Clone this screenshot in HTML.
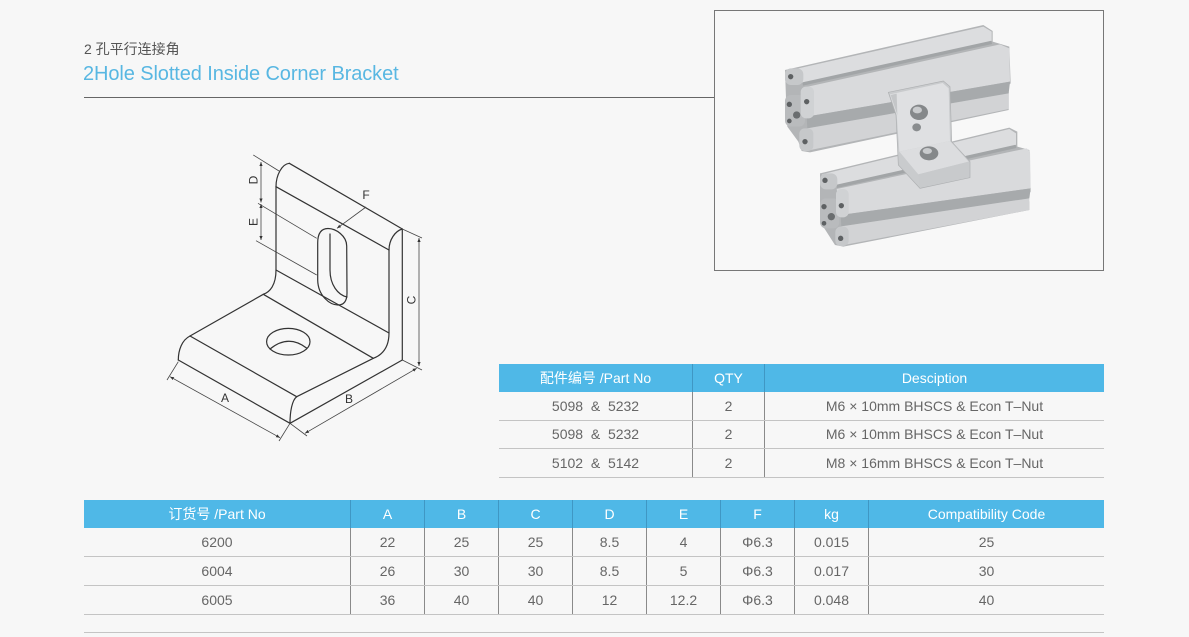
<!DOCTYPE html>
<html>
<head>
<meta charset="utf-8">
<style>
  html,body{margin:0;padding:0;}
  body{width:1189px;height:637px;background:#f7f7f7;position:relative;overflow:hidden;
       font-family:"Liberation Sans","Noto Sans CJK SC",sans-serif;}
  .t1{position:absolute;left:84px;top:39px;font-size:14px;color:#555;white-space:nowrap;}
  .t2{position:absolute;left:83px;top:63px;font-size:20px;color:#58b7e2;white-space:nowrap;letter-spacing:-0.1px;}
  .row{position:absolute;display:flex;box-sizing:border-box;}
  .row div{box-sizing:border-box;text-align:center;white-space:nowrap;}
  .hd{background:#4fb8e7;color:#fff;font-size:14px;}
  .hd div{border-left:1px solid #3f97c4;}
  .hd div:first-child{border-left:none;}
  .bd{color:#666;font-size:14px;border-bottom:1px solid #c4c4c4;}
  .bd div{border-left:1px solid #8a8a8a;}
  .bd div:first-child{border-left:none;}
  svg{position:absolute;left:0;top:0;}
</style>
</head>
<body>

<div class="t1">2 孔平行连接角</div>
<div class="t2">2Hole Slotted Inside Corner Bracket</div>

<svg width="1189" height="637" viewBox="0 0 1189 637">
  <defs>
    <marker id="ar" viewBox="0 0 10 10" refX="10" refY="5" markerWidth="5" markerHeight="5" orient="auto-start-reverse">
      <path d="M0,1 L10,5 L0,9 Z" fill="#333"/>
    </marker>
  </defs>

  <!-- title rule -->
  <line x1="84" y1="97.5" x2="714" y2="97.5" stroke="#666" stroke-width="1"/>
  <!-- photo box -->
  <rect x="714.5" y="10.5" width="389" height="260" fill="#f8f8f8" stroke="#777" stroke-width="1"/>

  <!-- photo -->
  <g transform="translate(770,15) scale(0.33333)">
    <!-- upper profile -->
    <polygon points="45,165 640,30 668,48 668,80 718,95 722,205 708,218 716,232 716,285 120,412 95,408 85,380 52,335 48,250" fill="#b3b5b7"/>
    <polygon points="50,168 640,35 665,50 665,78 98,205" fill="#dcdddf"/>
    <line x1="98" y1="207" x2="665" y2="82" stroke="#a2a5a7" stroke-width="10"/>
    <polygon points="100,218 690,88 718,100 720,200 110,305" fill="#d9dadc"/>
    <polygon points="110,305 720,200 716,235 112,340" fill="#a7aaac"/>
    <polygon points="112,340 716,235 716,282 122,405" fill="#d2d3d5"/>
    <!-- upper end face -->
    <rect x="45" y="160" width="55" height="50" rx="18" fill="#c6c8ca"/>
    <rect x="45" y="240" width="60" height="95" rx="18" fill="#b9bbbd"/>
    <rect x="92" y="215" width="40" height="95" rx="16" fill="#d0d2d4"/>
    <rect x="88" y="340" width="42" height="68" rx="16" fill="#c6c8ca"/>
    <circle cx="62" cy="185" r="8" fill="#5e6163"/>
    <circle cx="58" cy="268" r="8" fill="#5e6163"/>
    <circle cx="80" cy="300" r="11" fill="#6a6d6f"/>
    <circle cx="58" cy="318" r="7" fill="#5e6163"/>
    <circle cx="110" cy="260" r="8" fill="#5e6163"/>
    <circle cx="105" cy="380" r="8" fill="#5e6163"/>
    <!-- lower profile -->
    <polygon points="150,475 718,338 742,350 742,395 778,405 782,530 770,545 778,560 778,585 220,695 195,690 150,620" fill="#b3b5b7"/>
    <polygon points="155,478 718,342 738,355 738,390 200,510" fill="#dcdddf"/>
    <line x1="200" y1="514" x2="738" y2="394" stroke="#a2a5a7" stroke-width="10"/>
    <polygon points="200,522 770,400 780,410 782,520 212,600" fill="#d9dadc"/>
    <polygon points="212,600 782,520 778,550 214,634" fill="#a7aaac"/>
    <polygon points="214,634 778,550 778,585 222,690" fill="#d2d3d5"/>
    <!-- lower end face -->
    <rect x="150" y="475" width="52" height="48" rx="18" fill="#c6c8ca"/>
    <rect x="150" y="550" width="58" height="90" rx="18" fill="#b9bbbd"/>
    <rect x="198" y="522" width="38" height="85" rx="16" fill="#d0d2d4"/>
    <rect x="196" y="635" width="40" height="58" rx="16" fill="#c6c8ca"/>
    <circle cx="165" cy="496" r="8" fill="#5e6163"/>
    <circle cx="162" cy="575" r="8" fill="#5e6163"/>
    <circle cx="184" cy="605" r="11" fill="#6a6d6f"/>
    <circle cx="162" cy="625" r="7" fill="#5e6163"/>
    <circle cx="214" cy="572" r="8" fill="#5e6163"/>
    <circle cx="212" cy="670" r="8" fill="#5e6163"/>
    <!-- bracket -->
    <polygon points="355,232 520,198 540,215 545,380 600,440 600,488 450,520 385,450 378,300" fill="#c9cbcd" stroke="#aeb0b2" stroke-width="2"/>
    <polygon points="360,238 518,204 536,220 540,378 388,410 380,300" fill="#dfe0e2"/>
    <polygon points="362,240 380,236 386,420 382,300" fill="#c4c6c8"/>
    <polygon points="388,410 540,378 596,440 445,478" fill="#dcdddf"/>
    <polygon points="445,478 596,440 598,486 450,516" fill="#c8cacc"/>
    <ellipse cx="447" cy="292" rx="27" ry="23" fill="#85888a"/>
    <ellipse cx="442" cy="285" rx="14" ry="10" fill="#c9cbcd"/>
    <ellipse cx="440" cy="337" rx="13" ry="12" fill="#8a8d8f"/>
    <ellipse cx="477" cy="415" rx="28" ry="21" fill="#85888a"/>
    <ellipse cx="472" cy="408" rx="14" ry="9" fill="#c9cbcd"/>
  </g>

  <!-- line drawing -->
  <g fill="none" stroke="#333" stroke-width="1.2" stroke-linecap="round" stroke-linejoin="round">
    <path d="M289.3,163.3 L402.3,229"/>
    <path d="M289.3,163.3 C282,164 276,175 276,186.7"/>
    <path d="M276,186.7 L389,250"/>
    <path d="M402.3,229 C395,231 389,240 389,250"/>
    <path d="M276,186.7 L276,270 C276,285 270,292 263.3,294.3"/>
    <path d="M276,270 L389,333"/>
    <path d="M389,250 L389,333 C389,348 382,355 373.3,358.3"/>
    <path d="M402.3,229 L402.3,360"/>
    <path d="M263.3,294.3 L373.3,358.3"/>
    <path d="M263.3,294.3 L190,336"/>
    <path d="M190,336 C182,340 178.3,350 178.3,360"/>
    <path d="M190,336 L296.7,396.7"/>
    <path d="M178.3,360 L290,423.3"/>
    <path d="M296.7,396.7 C292,400 290,412 290,423.3"/>
    <path d="M296.7,396.7 L373.3,358.3"/>
    <path d="M290,423.3 L402.3,360"/>
    <!-- hole -->
    <ellipse cx="288.3" cy="341.7" rx="21.7" ry="13.3"/>
    <path d="M270,349 Q288.3,334 306.5,348"/>
    <!-- slot -->
    <path d="M317.7,277 L317.7,243 C317.7,232 322,228.5 328,228.5 C336,228.5 346.7,236 346.7,246 L347,293 C347,302 343,305 338,305 C330,305 318,296 317.7,280 Z"/>
    <path d="M330,234 L330,270 C330,285 338,295 347,297"/>
  </g>

  <!-- dimension lines -->
  <g fill="none" stroke="#444" stroke-width="0.8">
    <line x1="253.3" y1="155" x2="279" y2="171"/>
    <line x1="258" y1="203.3" x2="316.7" y2="238.3"/>
    <line x1="256" y1="240.7" x2="316.7" y2="275"/>
    <line x1="261" y1="162" x2="261" y2="202.5" marker-start="url(#ar)" marker-end="url(#ar)"/>
    <line x1="261" y1="204" x2="261" y2="240" marker-start="url(#ar)" marker-end="url(#ar)"/>
    <line x1="366" y1="207" x2="337" y2="228.3" marker-end="url(#ar)"/>
    <line x1="402.3" y1="229" x2="422" y2="238"/>
    <line x1="402.3" y1="360" x2="422" y2="370"/>
    <line x1="419" y1="238" x2="419" y2="366" marker-start="url(#ar)" marker-end="url(#ar)"/>
    <line x1="178.3" y1="361.7" x2="167" y2="380"/>
    <line x1="290" y1="423.3" x2="279" y2="441"/>
    <line x1="170" y1="376.7" x2="280" y2="437.7" marker-start="url(#ar)" marker-end="url(#ar)"/>
    <line x1="290" y1="423.3" x2="307" y2="436"/>
    <line x1="305" y1="433.3" x2="416.7" y2="368.3" marker-start="url(#ar)" marker-end="url(#ar)"/>
  </g>
  <g font-family="Liberation Sans, sans-serif" font-size="12" fill="#333" text-anchor="middle">
    <text x="225" y="402">A</text>
    <text x="349" y="403">B</text>
    <text x="366" y="199">F</text>
    <text transform="translate(415.5,300) rotate(-90)">C</text>
    <text transform="translate(257.5,180) rotate(-90)">D</text>
    <text transform="translate(257.5,222) rotate(-90)">E</text>
  </g>

  <!-- table bottom extra line -->
  <line x1="84" y1="632.5" x2="1104" y2="632.5" stroke="#c4c4c4" stroke-width="1"/>
</svg>

<!-- accessories table -->
<div class="row hd" style="left:499px;top:364px;width:605px;height:28px;line-height:28px;">
  <div style="width:193px">配件编号 /Part No</div><div style="width:72px">QTY</div><div style="width:340px">Desciption</div>
</div>
<div class="row bd" style="left:499px;top:392px;width:605px;height:29px;line-height:28px;">
  <div style="width:193px">5098 &nbsp;&amp;&nbsp; 5232</div><div style="width:72px">2</div><div style="width:340px">M6 × 10mm BHSCS &amp; Econ T–Nut</div>
</div>
<div class="row bd" style="left:499px;top:421px;width:605px;height:28px;line-height:27px;">
  <div style="width:193px">5098 &nbsp;&amp;&nbsp; 5232</div><div style="width:72px">2</div><div style="width:340px">M6 × 10mm BHSCS &amp; Econ T–Nut</div>
</div>
<div class="row bd" style="left:499px;top:449px;width:605px;height:29px;line-height:28px;">
  <div style="width:193px">5102 &nbsp;&amp;&nbsp; 5142</div><div style="width:72px">2</div><div style="width:340px">M8 × 16mm BHSCS &amp; Econ T–Nut</div>
</div>

<!-- spec table -->
<div class="row hd" style="left:84px;top:500px;width:1020px;height:28px;line-height:28px;">
  <div style="width:266px">订货号 /Part No</div><div style="width:74px">A</div><div style="width:74px">B</div><div style="width:74px">C</div><div style="width:74px">D</div><div style="width:74px">E</div><div style="width:74px">F</div><div style="width:74px">kg</div><div style="width:236px">Compatibility Code</div>
</div>
<div class="row bd" style="left:84px;top:528px;width:1020px;height:29px;line-height:28px;">
  <div style="width:266px">6200</div><div style="width:74px">22</div><div style="width:74px">25</div><div style="width:74px">25</div><div style="width:74px">8.5</div><div style="width:74px">4</div><div style="width:74px">Φ6.3</div><div style="width:74px">0.015</div><div style="width:236px">25</div>
</div>
<div class="row bd" style="left:84px;top:557px;width:1020px;height:29px;line-height:28px;">
  <div style="width:266px">6004</div><div style="width:74px">26</div><div style="width:74px">30</div><div style="width:74px">30</div><div style="width:74px">8.5</div><div style="width:74px">5</div><div style="width:74px">Φ6.3</div><div style="width:74px">0.017</div><div style="width:236px">30</div>
</div>
<div class="row bd" style="left:84px;top:586px;width:1020px;height:29px;line-height:28px;">
  <div style="width:266px">6005</div><div style="width:74px">36</div><div style="width:74px">40</div><div style="width:74px">40</div><div style="width:74px">12</div><div style="width:74px">12.2</div><div style="width:74px">Φ6.3</div><div style="width:74px">0.048</div><div style="width:236px">40</div>
</div>

</body>
</html>
